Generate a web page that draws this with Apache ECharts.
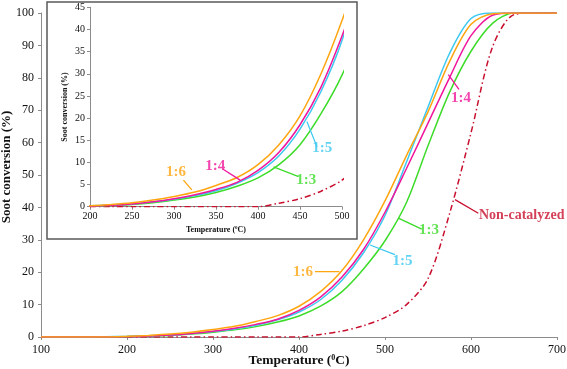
<!DOCTYPE html>
<html>
<head>
<meta charset="utf-8">
<script src="https://cdn.jsdelivr.net/npm/echarts@6/dist/echarts.min.js"></script>
<style>
  html, body { margin: 0; padding: 0; background: #fff; }
  #chart { width: 567px; height: 369px; }
</style>
</head>
<body>
<div id="chart"></div>
<script>
// temperatures (°C) and soot conversion (%)
const temps = [100, 125, 150, 175, 200, 225, 250, 275, 300, 325, 350, 375, 400, 425, 450, 475, 500, 525, 550, 575, 600, 625, 650, 675, 700];
const r13 = [0, 0, 0, 0, 0.1, 0.3, 0.5, 0.9, 1.5, 2.2, 3.2, 4.6, 6.5, 9.5, 14, 21, 29.7, 41.5, 59, 75.5, 88.2, 96.8, 100, 100, 100];
const r15 = [0, 0, 0, 0.05, 0.2, 0.4, 0.6, 1.1, 1.7, 2.5, 3.6, 5.3, 7.7, 11.5, 17.5, 26, 37.5, 54, 71, 87.5, 98.3, 100, 100, 100, 100];
const r14 = [0, 0, 0, 0, 0.1, 0.3, 0.6, 1.1, 1.8, 2.7, 3.9, 5.5, 8.2, 12.3, 18.5, 27, 38.5, 52, 66, 80, 93, 99.3, 100, 100, 100];
const r16 = [0, 0, 0, 0, 0.2, 0.5, 0.9, 1.5, 2.3, 3.3, 4.8, 6.6, 9.5, 14, 20.5, 30, 42, 56, 69.5, 85, 96.5, 99.8, 100, 100, 100];
const nonCat = [null, null, null, null, 0, 0, 0, 0, 0, 0, 0, 0, 0, 0.8, 1.8, 3.5, 6, 10, 18, 38, 63, 89.5, 99.5, 100, 100];

const mainTicksX = [100, 700, 100];   // min, max, step
const mainTicksY = [0, 100, 10];
const insetTicksX = [200, 500, 50];
const insetTicksY = [0, 45, 5];

const curves = [
  { name: "Non-catalyzed", values: nonCat, color: "#c8102e", dash: [6, 3, 1.5, 3] },
  { name: "1:3", values: r13, color: "#3ddc2a" },
  { name: "1:5", values: r15, color: "#3cc8f0" },
  { name: "1:4", values: r14, color: "#f0169b" },
  { name: "1:6", values: r16, color: "#ffa510" },
];

// curve labels: text position and leader line, in data units
const mainNotes = [
  { text: "1:6", color: "#ffa510", at: [404.7, 20.1], leader: [[418.6, 20.2], [447, 20.2]] },
  { text: "1:5", color: "#3cc8f0", at: [520.3, 23.3], leader: [[482.6, 28.4], [511.6, 25.4]] },
  { text: "1:3", color: "#3ddc2a", at: [551.2, 33.1], leader: [[515.5, 36.7], [542.7, 33.3]] },
  { text: "1:4", color: "#f0169b", at: [588.4, 73.6], leader: [[573.6, 81], [586, 76.4]] },
  { text: "Non-catalyzed", color: "#c8102e", at: [658.9, 37.4], leader: [[581.4, 42.4], [608.5, 38.2]] },
];
const insetNotes = [
  { text: "1:6", color: "#ffa510", at: [302.5, 7.8], leader: [[311.2, 6.0], [321.2, 3.8]] },
  { text: "1:4", color: "#f0169b", at: [349, 9.2], leader: [[358.9, 8.4], [378.8, 6.0]] },
  { text: "1:3", color: "#3ddc2a", at: [457.4, 6.0], leader: [[418.5, 9.0], [448.3, 6.8]] },
  { text: "1:5", color: "#3cc8f0", at: [476.5, 13.2], leader: [[458.3, 19.2], [470.2, 13.5]] },
];

const serif = "Liberation Serif, Times New Roman, serif";
const axisGray = "#8c8c8c";

function xAxisOf(grid, ticks, fs, nameFs, gap, labelMargin) {
  return {
    type: "value", gridIndex: grid,
    min: ticks[0], max: ticks[1], interval: ticks[2],
    axisLine: { show: true, lineStyle: { color: axisGray, width: 1 } },
    axisTick: { show: true, length: 3, lineStyle: { color: axisGray } },
    splitLine: { show: false },
    axisLabel: { color: "#111", fontFamily: serif, fontSize: fs, margin: labelMargin },
    name: "Temperature ({s|0}C)",
    nameLocation: "middle",
    nameGap: gap,
    nameMoveOverlap: false,
    nameTextStyle: {
      color: "#111", fontFamily: serif, fontSize: nameFs, fontWeight: "bold",
      rich: { s: { fontFamily: serif, fontSize: Math.round(nameFs * 0.6), fontWeight: "bold", color: "#111", verticalAlign: "top" } },
    },
  };
}
function yAxisOf(grid, ticks, fs, nameFs, gap, labelMargin, shift) {
  return {
    type: "value", gridIndex: grid,
    min: ticks[0], max: ticks[1], interval: ticks[2],
    axisLine: { show: true, lineStyle: { color: axisGray, width: 1 } },
    axisTick: { show: true, length: 3, lineStyle: { color: axisGray } },
    splitLine: { show: false },
    axisLabel: { color: "#111", fontFamily: serif, fontSize: fs, margin: labelMargin },
    name: "Soot conversion (%)",
    nameLocation: "middle",
    nameGap: gap,
    nameMoveOverlap: false,
    nameTextStyle: { color: "#111", fontFamily: serif, fontSize: nameFs, fontWeight: "bold", padding: [0, 0, 0, shift] },
  };
}

const series = [];
for (const grid of [0, 1]) {
  for (const c of curves) {
    series.push({
      name: c.name, type: "line",
      xAxisIndex: grid, yAxisIndex: grid,
      data: temps.map((t, i) => [t, c.values[i]]),
      showSymbol: false, smooth: 0.3,
      connectNulls: false, clip: true, silent: true,
      lineStyle: { color: c.color, width: 1.5, type: c.dash || "solid" },
      z: 3,
    });
  }
  const notes = grid === 0 ? mainNotes : insetNotes;
  for (const n of notes) {
    series.push({
      type: "line", xAxisIndex: grid, yAxisIndex: grid,
      data: n.leader, showSymbol: false, silent: true,
      lineStyle: { color: n.color, width: 1.3 }, z: 4,
    });
  }
  series.push({
    type: "scatter", xAxisIndex: grid, yAxisIndex: grid,
    symbolSize: 1, silent: true,
    itemStyle: { color: "rgba(0,0,0,0)" },
    data: notes.map((n) => ({
      value: n.at,
      label: {
        show: true, position: "inside", formatter: n.text,
        color: n.color, fontFamily: serif, fontWeight: "bold",
        fontSize: n.text.length > 3 ? 14 : 15,
      },
    })),
    z: 5,
  });
}

const chart = echarts.init(document.getElementById("chart"), null, { renderer: "canvas" });
chart.setOption({
  animation: false,
  backgroundColor: "#fff",
  grid: [
    { left: 41, right: 10, top: 13, bottom: 32, outerBoundsMode: "none", containLabel: false },
    { left: 90, right: 225, top: 7.3, bottom: 162.3, outerBoundsMode: "none", containLabel: false },
  ],
  xAxis: [
    xAxisOf(0, mainTicksX, 12, 13.5, 17, 7),
    xAxisOf(1, insetTicksX, 10, 8, 19, 5),
  ],
  yAxis: [
    yAxisOf(0, mainTicksY, 12, 13, 28, 7, 16),
    yAxisOf(1, insetTicksY, 10, 8, 21, 5, 0),
  ],
  graphic: [
    {
      type: "rect", z: -10, silent: true,
      shape: { x: 47, y: 2, width: 310, height: 237 },
      style: { fill: "#fff", stroke: "#5a5a5a", lineWidth: 1.5 },
    },
  ],
  series,
});
</script>
</body>
</html>
